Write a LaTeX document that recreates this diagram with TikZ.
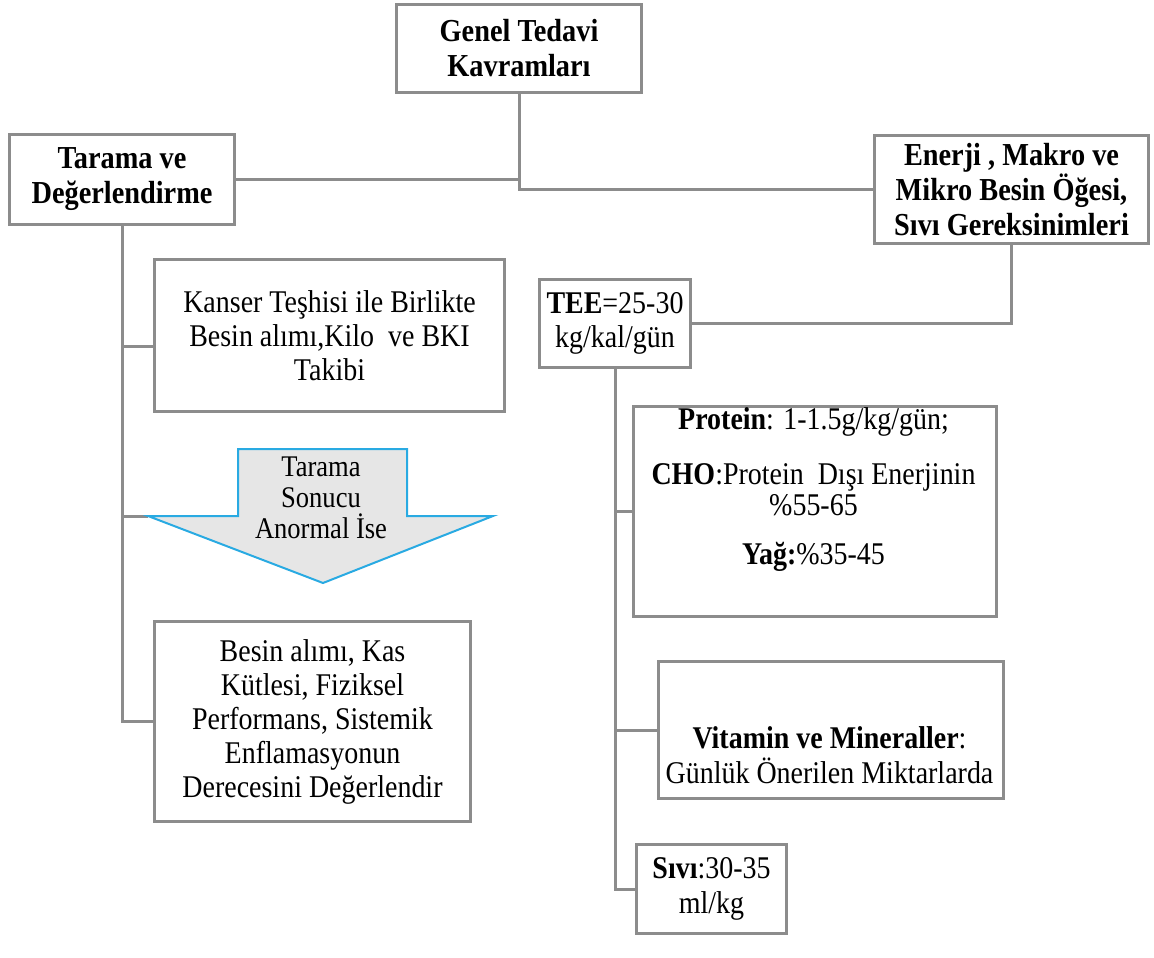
\documentclass[tikz,border=0pt]{standalone}
\usepackage{fontspec}
\setmainfont[FakeStretch=0.885]{Liberation Serif}
\definecolor{boxgray}{RGB}{140,140,140}
\definecolor{arrowblue}{RGB}{41,170,226}
\definecolor{arrowfill}{RGB}{230,230,230}
\begin{document}
\begin{tikzpicture}[x=1pt,y=-1pt,
  box/.style={draw=boxgray, line width=3pt, fill=white, inner sep=0pt, anchor=north west, align=center, font=\fontsize{31.6}{34}\selectfont},
  bbox/.style={box, font=\fontsize{32}{35}\selectfont\bfseries},
  txt/.style={inner sep=0pt, align=center, font=\fontsize{31.6}{34}\selectfont},
  conn/.style={draw=boxgray, line width=3pt},
]
\useasboundingbox (0,0) rectangle (1154,958);

\coordinate (wingL) at (148,516);
\coordinate (wingR) at (493,516);
\coordinate (tip) at (323,583);
\coordinate (shaftL) at (238,516);
\coordinate (shaftR) at (407,516);
\coordinate (shaftTL) at (238,449);
\coordinate (shaftTR) at (407,449);

% boxes
\node[bbox, minimum width=245pt, minimum height=88pt] (gen) at (395,3) {Genel Tedavi\\Kavramları};
\node[bbox, minimum width=225pt, minimum height=90pt] (tar) at (8,133) {Tarama ve\\Değerlendirme};
\node[bbox, minimum width=274pt, minimum height=108pt] (ene) at (873,134) {Enerji , Makro ve\\Mikro Besin Öğesi,\\Sıvı Gereksinimleri};
\node[box, minimum width=151pt, minimum height=88pt] (tee) at (538,278) {\textbf{TEE}=25-30\\kg/kal/gün};
\node[box, minimum width=350pt, minimum height=152pt] (kan) at (153,258) {Kanser Teşhisi ile Birlikte\\Besin alımı,Kilo\ \ ve BKI\\Takibi};
\node[box, minimum width=316pt, minimum height=200pt] (bes) at (153,620) {Besin alımı, Kas\\Kütlesi, Fiziksel\\Performans, Sistemik\\Enflamasyonun\\Derecesini Değerlendir};
\node[box, minimum width=363pt, minimum height=210pt] (prot) at (632,405) {};
\node[box, minimum width=345pt, minimum height=137pt] (vit) at (657,660) {};
\node[box, minimum width=150pt, minimum height=89pt] (siv) at (635,843) {\textbf{Sıvı}:30-35\\[1pt]ml/kg};

\node[txt, anchor=north] (protT) at (813.5,407) {\textbf{Protein}: 1-1.5g/kg/gün;\\[21pt]\textbf{CHO}:Protein\ \ Dışı Enerjinin\\[-3pt]\%55-65\\[15pt]\textbf{Yağ:}\%35-45};
\node[txt] (vitT) at (829.5,755) {\textbf{Vitamin ve Mineraller}:\\[1pt]Günlük Önerilen Miktarlarda};

% connectors
\draw[conn] (gen.south) |- (ene.west);
\draw[conn] (tar.east) -- (tar.east -| gen.south);
\draw[conn] (tar.south) |- (bes.west);
\draw[conn] ([yshift=-11pt]kan.west) -- ([yshift=-11pt]kan.west -| tar.south);
\draw[conn] (wingL) -- (wingL -| tar.south);
\draw[conn] (ene.south) |- (tee.east);
\draw[conn] (tee.south) |- (siv.west);
\draw[conn] (prot.west) -- (prot.west -| tee.south);
\draw[conn] (vit.west) -- (vit.west -| tee.south);

% arrow
\draw[draw=arrowblue, fill=arrowfill, line width=2pt, line join=miter]
  (shaftTL) -- (shaftTR) -- (shaftR) -- (wingR) -- (tip) -- (wingL) -- (shaftL) -- cycle;
\node[txt, font=\fontsize{30}{31}\selectfont] (arrT) at (321,498) {Tarama\\Sonucu\\Anormal İse};
\end{tikzpicture}
\end{document}
